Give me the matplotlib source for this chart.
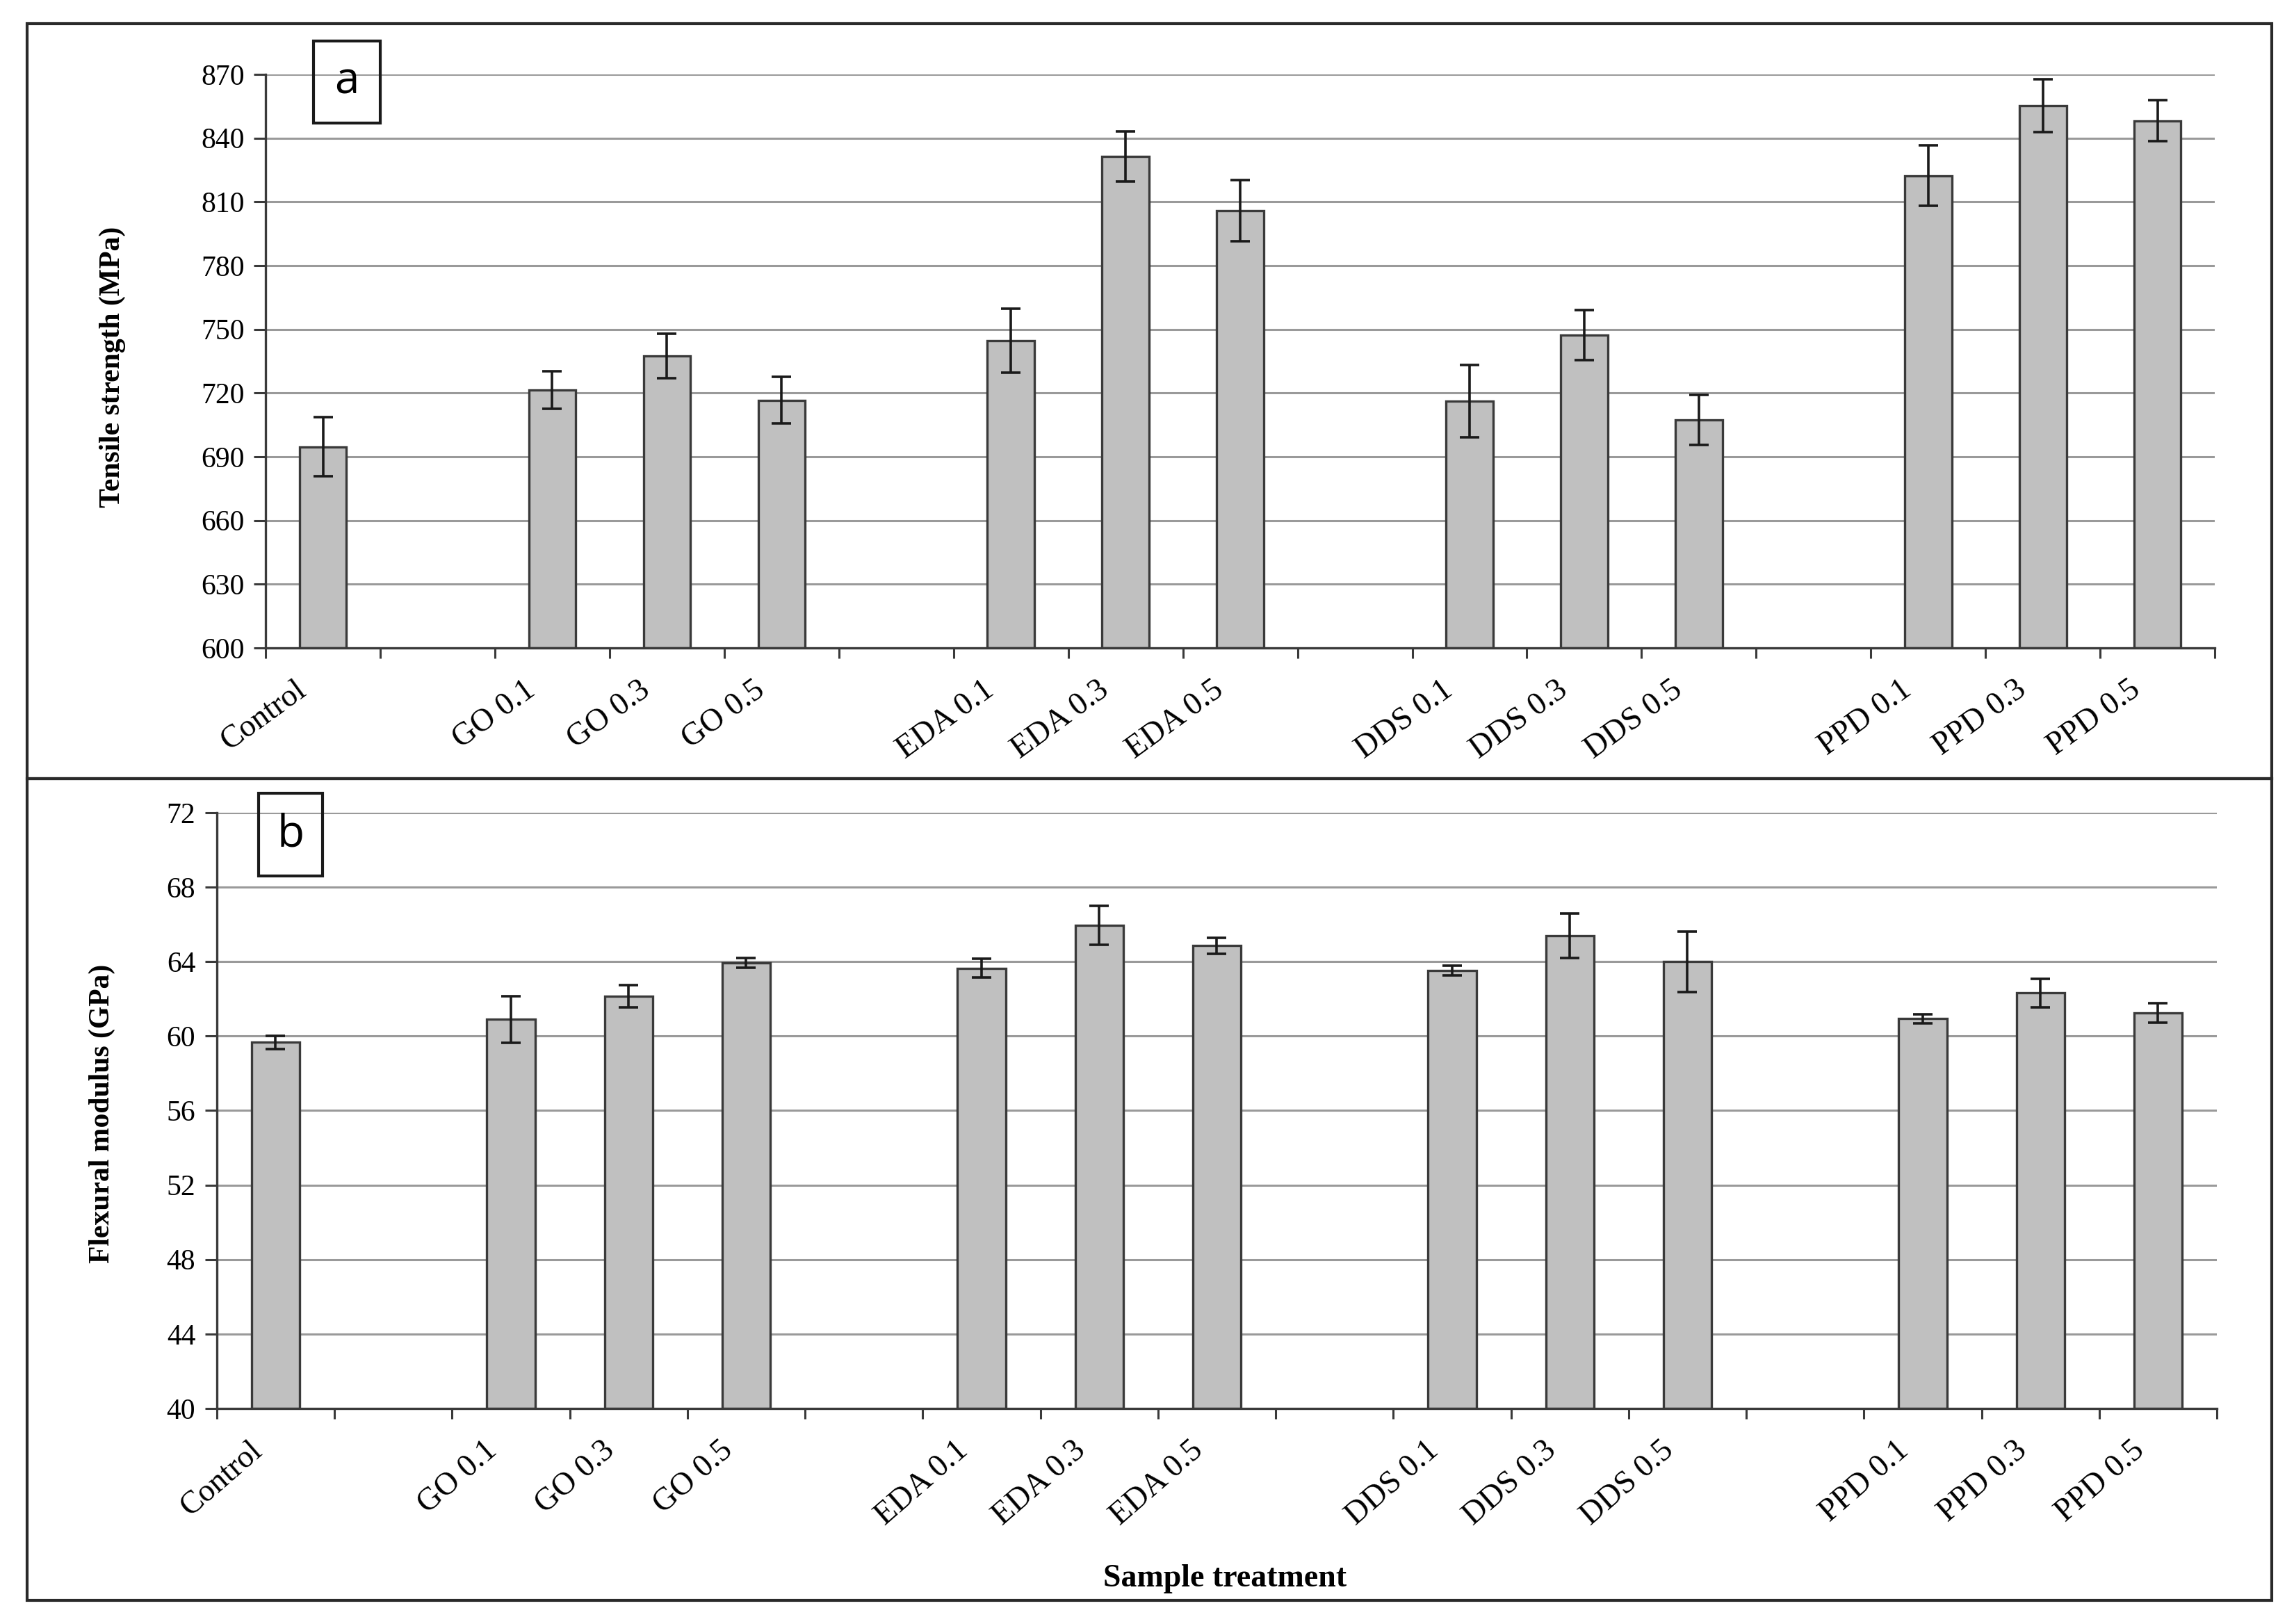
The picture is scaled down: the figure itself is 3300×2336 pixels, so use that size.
import matplotlib.pyplot as plt
import numpy as np
from matplotlib.patches import Rectangle

# categories (blank entries are the empty slots between groups)
cats = ["Control", "", "GO 0.1", "GO 0.3", "GO 0.5", "",
        "EDA 0.1", "EDA 0.3", "EDA 0.5", "",
        "DDS 0.1", "DDS 0.3", "DDS 0.5", "",
        "PPD 0.1", "PPD 0.3", "PPD 0.5"]

nan = np.nan
tensile = [694.7, nan, 721.3, 737.4, 716.6, nan,
           744.7, 831.4, 805.7, nan,
           716.2, 747.3, 707.3, nan,
           822.3, 855.3, 848.2]
tensile_err = [14.0, nan, 8.8, 10.5, 11.0, nan,
               15.0, 11.7, 14.4, nan,
               17.0, 11.7, 11.7, nan,
               14.2, 12.5, 9.7]

modulus = [59.66, nan, 60.9, 62.14, 63.93, nan,
           63.64, 65.96, 64.85, nan,
           63.52, 65.38, 63.99, nan,
           60.93, 62.31, 61.25]
modulus_err = [0.37, nan, 1.25, 0.58, 0.25, nan,
               0.5, 1.05, 0.43, nan,
               0.27, 1.19, 1.62, nan,
               0.24, 0.77, 0.53]

plt.rcParams['font.family'] = ['Liberation Serif', 'DejaVu Serif']

fig = plt.figure(figsize=(33, 23.36), dpi=100)

def panel(ax, vals, errs, ylim, ystep, ylabel, lab_xy, lab_off, rot):
    x = np.arange(len(cats))
    v = np.array(vals, dtype=float)
    e = np.array(errs, dtype=float)
    m = ~np.isnan(v)
    ax.set_axisbelow(True)
    ax.yaxis.grid(True, color='#9a9a9a', lw=2.2)
    ax.bar(x[m], v[m] - ylim[0], bottom=ylim[0], width=0.41,
           color='#c0c0c0', edgecolor='#3a3a3a', lw=2.4, zorder=2)
    ax.errorbar(x[m], v[m], yerr=e[m], fmt='none', ecolor='#1a1a1a',
                elinewidth=2.6, capsize=10, capthick=2.6, zorder=3)
    ax.set_xlim(-0.5, len(cats) - 0.5)
    ax.set_ylim(*ylim)
    ax.set_yticks(np.arange(ylim[0], ylim[1] + 0.1, ystep))
    # category labels, slanted like the original
    ax.set_xticks(np.arange(-0.5, len(cats)))
    ax.set_xticklabels([])
    for xi, c in zip(x, cats):
        if c:
            ax.annotate(c, (xi, 0), xycoords=('data', 'axes fraction'),
                        xytext=lab_off, textcoords='offset points',
                        rotation=rot, ha='right', va='baseline',
                        rotation_mode='anchor', fontsize=33,
                        annotation_clip=False)
    ax.tick_params(axis='x', length=11, width=2.2, color='#3a3a3a')
    ax.tick_params(axis='y', length=12, width=2.2, color='#3a3a3a', pad=10,
                   labelsize=30)
    for s in ['top', 'right']:
        ax.spines[s].set_visible(False)
    for s in ['left', 'bottom']:
        ax.spines[s].set_color('#3a3a3a')
        ax.spines[s].set_linewidth(2.4)
    fig.text(lab_xy[0], lab_xy[1], ylabel, rotation=90, ha='center',
             va='center', fontsize=30, fontweight='bold')

ax1 = fig.add_axes([0.1158, 0.6010, 0.8497, 0.3532])
panel(ax1, tensile, tensile_err, (600, 870), 30,
      'Tensile strength (MPa)', (0.049, 0.774), (-16, -47), 36)

ax2 = fig.add_axes([0.0945, 0.1327, 0.8719, 0.3669])
panel(ax2, modulus, modulus_err, (40, 72), 4,
      'Flexural modulus (GPa)', (0.0446, 0.3142), (-13, -46), 41)

fig.text(0.534, 0.028, 'Sample treatment', ha='center', va='center',
         fontsize=33, fontweight='bold')

# outer frames
fig.add_artist(Rectangle((0.0117, 0.5205), 0.9786, 0.4649,
                         transform=fig.transFigure, fill=False,
                         lw=3, ec='#2a2a2a'))
fig.add_artist(Rectangle((0.0117, 0.0146), 0.9786, 0.5059,
                         transform=fig.transFigure, fill=False,
                         lw=3, ec='#2a2a2a'))

# panel letter boxes
fig.add_artist(Rectangle((0.1367, 0.9242), 0.0291, 0.0505,
                         transform=fig.transFigure, fill=False,
                         lw=3, ec='#1a1a1a'))
fig.text(0.1512, 0.9495, 'a', ha='center', va='center', fontsize=46,
         family='Open Sans')
fig.add_artist(Rectangle((0.1127, 0.4606), 0.0279, 0.0510,
                         transform=fig.transFigure, fill=False,
                         lw=3, ec='#1a1a1a'))
fig.text(0.1267, 0.4863, 'b', ha='center', va='center', fontsize=46,
         family='Open Sans')

fig.savefig('out.png', dpi=100, facecolor='white')
